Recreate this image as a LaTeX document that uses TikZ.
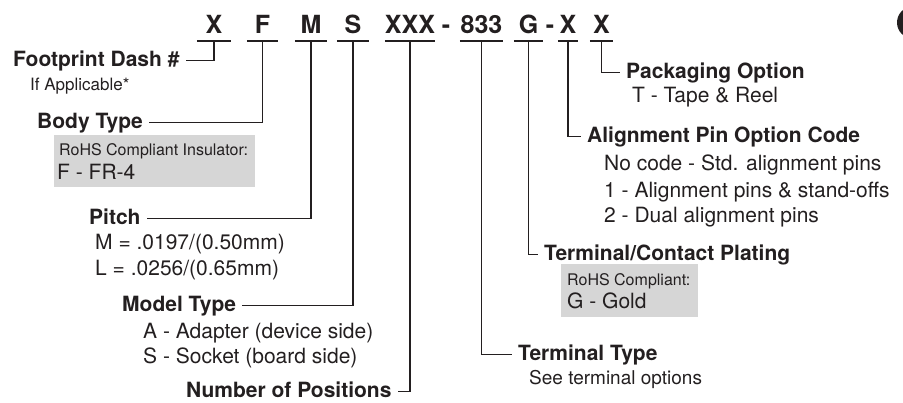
\documentclass[tikz,border=0pt]{standalone}
\usepackage{fontspec}
\setmainfont{TeX Gyre Heros}
\usepackage{xcolor}
\usepackage{tikz}
\usetikzlibrary{positioning}
\definecolor{cInk}{HTML}{231F20}
\definecolor{cBox}{HTML}{D6D6D6}

\begin{document}
\begin{tikzpicture}[
  x=1bp, y=-1bp,
  every node/.style={text=cInk},
  digit/.style={font=\fontsize{25bp}{30bp}\selectfont\bfseries, anchor=base,
                inner xsep=0pt, inner ysep=8bp, text depth=0pt, minimum width=#1},
  field/.style={font=\fontsize{21bp}{25bp}\selectfont\bfseries, anchor=base west,
                inner xsep=6bp, inner ysep=0pt, text height=15bp, text depth=4bp},
  note/.style={font=\fontsize{#1}{#1}\selectfont, anchor=base west, inner sep=0pt},
  note/.default=21bp,
  shade/.style={fill=cBox, anchor=north west, inner sep=0pt},
  rule/.style={draw=cInk, line width=1.5bp},
]
\useasboundingbox (0,0) rectangle (903,402);

% Part number
\node[digit=34bp] (foot)  at (214,33)   {X};
\node[digit=31bp] (body)  at (262.5,33) {F};
\node[digit=32bp] (pitch) at (311,33)   {M};
\node[digit=32bp] (model) at (353,33)   {S};
\node[digit=50bp] (npos)  at (410,33)   {XXX};
\node[digit=0bp]  (sepA)  at (446,33)   {-};
\node[digit=43bp] (term)  at (481.5,33) {833};
\node[digit=29bp] (plate) at (528.5,33) {G};
\node[digit=0bp]  (sepB)  at (550,33)   {-};
\node[digit=20bp] (pin)   at (568,33)   {X};
\node[digit=23bp] (pack)  at (601.5,33) {X};

% Fields
\node[field] (foot-lbl)  at (7,66)    {Footprint Dash \#};
\node[field] (body-lbl)  at (31,128)  {Body Type};
\node[field] (pitch-lbl) at (83,224)  {Pitch};
\node[field] (model-lbl) at (116,311) {Model Type};
\node[field] (npos-lbl)  at (180,397) {Number of Positions};
\node[field] (pack-lbl)  at (620,78)  {Packaging Option};
\node[field] (pin-lbl)   at (581,142) {Alignment Pin Option Code};
\node[field] (plate-lbl) at (538,260) {Terminal/Contact Plating};
\node[field] (term-lbl)  at (512,360) {Terminal Type};

% Boxes
\node[shade, minimum width=201bp, minimum height=52bp] (insBox) at (54,135) {};
\node[shade, minimum width=137bp, minimum height=53bp] (platBox) at (561,264) {};

% Notes
\node[note=17bp] (foot-n1) at (30,90) {If Applicable*};
\node[note=16bp] (body-n1) at (59,155) {RoHS Compliant Insulator:};
\node[note] (body-n2) at (57,179) {F - FR-4};
\node[note] (pitch-n1) at (95,249) {M = .0197/(0.50mm)};
\node[note] (pitch-n2) at (95,275) {L = .0256/(0.65mm)};
\node[note] (model-n1) at (143,338) {A - Adapter (device side)};
\node[note] (model-n2) at (143,363) {S - Socket (board side)};
\node[note] (pack-n1) at (632,102) {T - Tape \& Reel};
\node[note] (pin-n1) at (604,170) {No code - Std. alignment pins};
\node[note] (pin-n2) at (604,197) {1 - Alignment pins \& stand-offs};
\node[note] (pin-n3) at (604,222) {2 - Dual alignment pins};
\node[note=16bp] (plate-n1) at (567,285) {RoHS Compliant:};
\node[note] (plate-n2) at (567,308) {G - Gold};
\node[note=19bp] (term-n1) at (529,384) {See terminal options};

% Lines
\foreach \n in {foot,body,pitch,model,npos,term,plate,pin,pack}
  \draw[rule] (\n.south west) -- (\n.south east);
\foreach \n in {foot,body,pitch,model,npos}
  \draw[rule] (\n.south) |- (\n-lbl.east);
\foreach \n in {term,plate,pin,pack}
  \draw[rule] (\n.south) |- (\n-lbl.west);

% cut-off mark at the edge
\begin{scope}
  \clip (0,0) rectangle (903,402);
  \fill[cInk] (913,22.5) circle[radius=16];
\end{scope}

\end{tikzpicture}
\end{document}
